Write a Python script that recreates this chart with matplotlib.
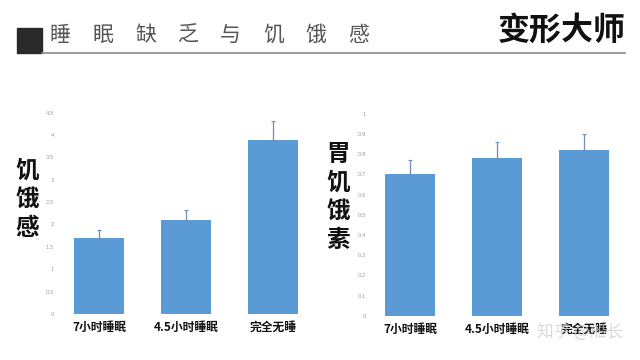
import matplotlib
matplotlib.use('Agg')
import matplotlib.pyplot as plt
from matplotlib.patches import Rectangle
from matplotlib.lines import Line2D

plt.rcParams['font.family'] = ['Noto Sans CJK SC', 'DejaVu Sans']

# data
groups = ['7小时睡眠', '4.5小时睡眠', '完全无睡']
hunger = [1.7, 2.1, 3.9]
hunger_err = [0.18, 0.23, 0.41]
ghrelin = [0.70, 0.78, 0.82]
ghrelin_err = [0.07, 0.08, 0.08]
hunger_ticks = [0, 0.5, 1, 1.5, 2, 2.5, 3, 3.5, 4, 4.5]
ghrelin_ticks = [0, 0.1, 0.2, 0.3, 0.4, 0.5, 0.6, 0.7, 0.8, 0.9, 1]
title_chars = list('睡眠缺乏与饥饿感')

bar_color = '#5b9bd5'
err_color = '#6f8fb5'

fig = plt.figure(figsize=(6.4, 3.6), dpi=100)
fig.patch.set_facecolor('white')


def panel(rect, vals, errs, ticks, ymax):
    ax = fig.add_axes(rect)
    x = list(range(len(vals)))
    ax.bar(x, vals, width=0.575, color=bar_color,
           yerr=[[0] * len(errs), errs], ecolor=err_color,
           error_kw=dict(elinewidth=0.9, capsize=1.5, capthick=0.8))
    ax.set_xlim(-0.45, 2.45)
    ax.set_ylim(0, ymax)
    ax.set_yticks(ticks)
    ax.set_yticklabels([('%g' % t) for t in ticks], fontsize=3.8, color='#9a9a9a',
                       family=['DejaVu Sans'])
    ax.tick_params(axis='y', length=0, pad=4)
    ax.set_xticks(x)
    ax.set_xticklabels(groups, fontsize=8.5, fontweight='bold', color='#111111')
    ax.tick_params(axis='x', length=0, pad=5)
    for s in ax.spines.values():
        s.set_visible(False)
    return ax


ax1 = panel([0.0935, 0.128, 0.394, 0.559], hunger, hunger_err, hunger_ticks, 4.5)
ax2 = panel([0.580, 0.123, 0.394, 0.561], ghrelin, ghrelin_err, ghrelin_ticks, 1.0)

# vertical axis titles
fig.text(27 / 640, 1 - 199 / 360, '饥\n饿\n感', fontsize=17, fontweight='bold',
         ha='center', va='center', linespacing=1.25, color='#111111')
fig.text(338 / 640, 1 - 197 / 360, '胃\n饥\n饿\n素', fontsize=17, fontweight='bold',
         ha='center', va='center', linespacing=1.25, color='#111111')

# header
fig.patches.append(Rectangle((17 / 640, 1 - 53 / 360), 25 / 640, 25 / 360,
                             transform=fig.transFigure, color='#2a2a2a'))
fig.lines.append(Line2D([42 / 640, 625 / 640], [1 - 52.5 / 360, 1 - 52.5 / 360],
                        transform=fig.transFigure, color='#8a8a8a', lw=1.2))
for i, ch in enumerate(title_chars):
    fig.text((60 + i * 42.7) / 640, 1 - 35 / 360, ch, fontsize=15,
             color='#555555', ha='center', va='center')
fig.text(626 / 640, 1 - 31 / 360, '变形大师', fontsize=23, fontweight='bold',
         color='#111111', ha='right', va='center')

# watermark
fig.text(623 / 640, 1 - 332 / 360, '知乎 @船长', fontsize=12, color='#cccccc',
         ha='right', va='center', alpha=0.75)

fig.savefig('out.png', dpi=100)
